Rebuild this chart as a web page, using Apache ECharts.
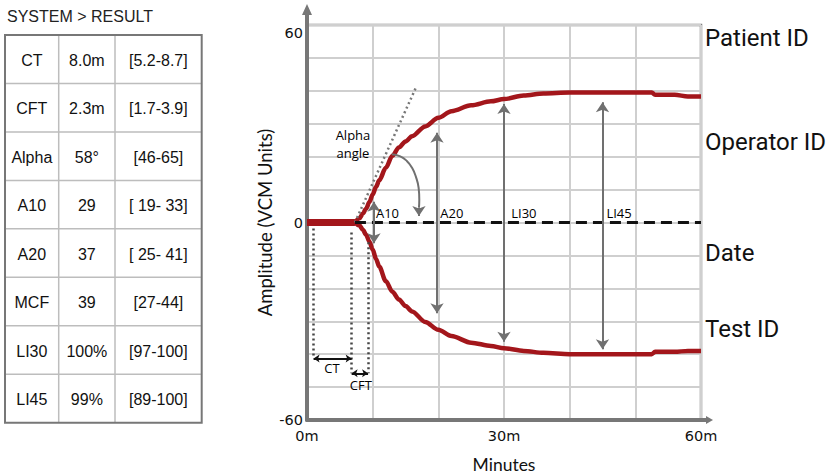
<!DOCTYPE html>
<html>
<head>
<meta charset="utf-8">
<title>SYSTEM > RESULT</title>
<script src="https://cdn.jsdelivr.net/npm/echarts@6.0.0/dist/echarts.min.js"></script>
<style>
  html, body { margin: 0; padding: 0; background: #fff; }
  #chart { width: 829px; height: 475px; }
</style>
</head>
<body>
<div id="chart"></div>
<script>
// trace (minutes, amplitude)
const timeMin = [7.3, 8, 8.5, 9, 9.5, 10, 10.5, 11, 12, 13, 14, 15, 16, 18, 20, 22, 25, 28, 30, 33, 36, 40, 45, 50, 52.5, 53, 56, 58, 60];
const upperAmp = [0, 1.3, 2.7, 4.2, 6.2, 8.5, 10.8, 12.8, 16.6, 20.3, 22.8, 24.6, 26.2, 29.2, 31.8, 33.8, 35.6, 36.8, 37.5, 38.6, 39.2, 39.5, 39.5, 39.5, 39.5, 38.8, 38.8, 38.3, 38.3];
const lowerAmp = [0, -0.9, -2.2, -3.7, -5.8, -8.2, -11, -13.4, -17.8, -21, -23.4, -25.4, -27, -30.2, -32.6, -34.5, -36.5, -37.5, -38.2, -39, -39.6, -40, -40, -40, -40, -39.3, -39.3, -39, -39];
const baseTime = [0, 7.3];

// measurement arrows
const arrowNames = ['A10', 'A20', 'LI30', 'LI45'];
const arrowTime = [10.2, 19.8, 30, 45];
const arrowTop = [6.3, 27.3, 36, 36.5];
const arrowBottom = [-6.3, -27.6, -36.2, -38.5];
const arrowLabelTime = [10.5, 20.3, 31.1, 45.6];
const arrowLabelAmp = 3;

// alpha angle: tangent and the curved arrow
const tangentFrom = [7.3, 0];
const tangentTo = [16.7, 41.5];
const alphaArcTime = [12.9, 14.2, 15.2, 16.0, 16.6, 17.0, 17.1, 17.05];
const alphaArcAmp = [20.7, 20.1, 18.7, 16.6, 13.8, 10.5, 7.0, 4.5];
const alphaArrowEnd = [17.05, 2.0];
const alphaText = ['Alpha', 'angle'];
const alphaTextPos = [[7.0, 26.7], [7.0, 21.2]];

// CT / CFT markers
const dotTime = [1, 6.8, 9.3];
const dotTop = [-1.8, -3, -6];
const dotBottom = [-41.3, -45.8, -45.8];
const bracketNames = ['CT', 'CFT'];
const bracketFrom = [1, 6.8];
const bracketTo = [6.8, 9.3];
const bracketAmp = [-41.3, -45.8];
const bracketLabelPos = [[3.8, -44.3], [8.2, -49.3]];

const zeroLineFrom = 7.3;
const xTicks = [0, 30, 60];
const yTicks = [-60, 0, 60];

// result table
const tableParams = ['CT', 'CFT', 'Alpha', 'A10', 'A20', 'MCF', 'LI30', 'LI45'];
const tableValues = ['8.0m', '2.3m', '58°', '29', '37', '39', '100%', '99%'];
const tableRanges = ['[5.2-8.7]', '[1.7-3.9]', '[46-65]', '[ 19- 33]', '[ 25- 41]', '[27-44]', '[97-100]', '[89-100]'];
const sideLabels = ['Patient ID', 'Operator ID', 'Date', 'Test ID'];

const RED = '#a3161b';
const GREY = '#707070';
const pixelFont = '"Liberation Sans", Arial, sans-serif';
const noteFont = '"Open Sans", Lato, sans-serif';
const titleFont = 'Lato, "Open Sans", sans-serif';

function lineData(xs, ys) {
    return xs.map((x, i) => [x, ys[i]]);
}

function tableGraphic() {
    const left = 5, top = 35, right = 201.7, bottom = 422.7;
    const cols = [5, 58.7, 115, 201.7];
    const rowH = (bottom - top) / tableParams.length;
    const els = [];
    els.push({ type: 'text', style: { text: 'SYSTEM > RESULT', x: 7, y: 16, fontSize: 16, fontFamily: pixelFont, fill: '#222', verticalAlign: 'middle' } });
    els.push({ type: 'rect', shape: { x: left, y: top, width: right - left, height: bottom - top }, style: { fill: '#fff', stroke: 'none' } });
    for (let i = 1; i < tableParams.length; i++) {
        const y = top + rowH * i;
        els.push({ type: 'line', shape: { x1: left, y1: y, x2: right, y2: y }, style: { stroke: '#bdbdbd', lineWidth: 1.5 } });
    }
    [cols[1], cols[2]].forEach(x => {
        els.push({ type: 'line', shape: { x1: x, y1: top, x2: x, y2: bottom }, style: { stroke: '#bdbdbd', lineWidth: 1.5 } });
    });
    els.push({ type: 'rect', shape: { x: left, y: top, width: right - left, height: bottom - top }, style: { fill: 'none', stroke: '#777', lineWidth: 2 } });
    const columns = [tableParams, tableValues, tableRanges];
    columns.forEach((col, c) => {
        const cx = (cols[c] + cols[c + 1]) / 2;
        col.forEach((t, r) => {
            els.push({
                type: 'text',
                style: {
                    text: t, x: cx, y: top + rowH * (r + 0.5) + 1,
                    fontSize: 16, fontFamily: pixelFont, fill: '#111',
                    align: 'center', verticalAlign: 'middle'
                }
            });
        });
    });
    const sideY = [37.5, 142, 253, 329];
    sideLabels.forEach((t, i) => {
        els.push({ type: 'text', style: { text: t, x: 705, y: sideY[i], fontSize: 24, fontFamily: 'Roboto, sans-serif', fill: '#111', verticalAlign: 'middle' } });
    });
    return els;
}

function initChart(domId = 'chart') {
    const chart = echarts.init(document.getElementById(domId), null, { renderer: 'svg' });

    const guide = (name, lines, lineStyle, symbol, symbolSize, z) => ({
        name: name,
        type: 'line',
        data: [],
        silent: true,
        z: z || 3,
        markLine: {
            silent: true,
            animation: false,
            symbol: symbol,
            symbolSize: symbolSize,
            label: { show: false },
            lineStyle: lineStyle,
            emphasis: { disabled: true },
            data: lines
        }
    });

    const axisFont = { fontFamily: '"DejaVu Sans", sans-serif', fontSize: 14.5, color: '#111', lineHeight: 14 };

    chart.setOption({
        animation: false,
        backgroundColor: '#fff',
        graphic: tableGraphic(),
        grid: {
            left: 307, top: 25, right: 128, bottom: 55,
            containLabel: false,
            outerBoundsMode: 'none',
            show: true, borderColor: '#808080', borderWidth: 2.5, backgroundColor: 'transparent'
        },
        xAxis: {
            type: 'value',
            min: 0, max: 60, interval: 10,
            name: 'Minutes',
            nameLocation: 'middle',
            nameGap: 35,
            nameTextStyle: { fontFamily: titleFont, fontSize: 17.5, lineHeight: 18, color: '#111' },
            axisLine: {
                onZero: false,
                symbol: ['none', 'path://M4,0 L8,7 L6,7 L6,12 L2,12 L2,7 L0,7 Z'],
                symbolSize: [8, 12],
                symbolOffset: [0, 6],
                lineStyle: { color: '#777', width: 4 }
            },
            axisTick: { show: false },
            splitLine: { lineStyle: { color: '#cfcfcf', width: 2 } },
            axisLabel: Object.assign({
                margin: 9,
                formatter: v => xTicks.includes(v) ? v + 'm' : ''
            }, axisFont)
        },
        yAxis: {
            type: 'value',
            min: -60, max: 60, interval: 10,
            name: 'Amplitude (VCM Units)',
            nameLocation: 'middle',
            nameGap: 33,
            nameTextStyle: { fontFamily: titleFont, fontSize: 18.5, color: '#111' },
            axisLine: {
                onZero: false,
                symbol: ['none', 'path://M5,0 L10,11 L7,11 L7,21 L3,21 L3,11 L0,11 Z'],
                symbolSize: [10, 21],
                symbolOffset: [0, 10.5],
                lineStyle: { color: '#777', width: 4 }
            },
            axisTick: { show: false },
            splitLine: { lineStyle: { color: '#cfcfcf', width: 2 } },
            axisLabel: Object.assign({
                margin: 4,
                formatter: v => {
                    if (!yTicks.includes(v)) return '';
                    return v === 60 ? '{top|60}' : String(v);
                },
                rich: {
                    top: Object.assign({ padding: [16, 0, 0, 0] }, axisFont)
                }
            }, axisFont)
        },
        series: [
            guide('tangent', [[{ coord: tangentFrom }, { coord: tangentTo }]],
                { type: [2, 3], width: 2.5, color: '#777' }, ['none', 'none'], 0),
            guide('ct-lines', dotTime.map((t, i) => [{ coord: [t, dotTop[i]] }, { coord: [t, dotBottom[i]] }]),
                { type: [2, 3], width: 2.5, color: '#444' }, ['none', 'none'], 0),
            guide('zero', [[{ coord: [zeroLineFrom, 0] }, { coord: [60, 0] }]],
                { type: [11, 6], width: 3, color: '#111' }, ['none', 'none'], 0),
            {
                name: 'baseline', type: 'line', z: 4,
                data: lineData(baseTime, [0, 0]),
                showSymbol: false, silent: true,
                lineStyle: { color: RED, width: 7 }
            },
            {
                name: 'upper', type: 'line', z: 4,
                data: lineData(timeMin, upperAmp),
                smooth: 0.3, smoothMonotone: 'x', showSymbol: false, silent: true,
                lineStyle: { color: RED, width: 4.5 }
            },
            {
                name: 'lower', type: 'line', z: 4,
                data: lineData(timeMin, lowerAmp),
                smooth: 0.3, smoothMonotone: 'x', showSymbol: false, silent: true,
                lineStyle: { color: RED, width: 4.5 }
            },
            guide('arrows', arrowTime.map((t, i) => [{ coord: [t, arrowTop[i]] }, { coord: [t, arrowBottom[i]] }]),
                { type: 'solid', width: 2, color: GREY }, ['arrow', 'arrow'], 10, 5),
            {
                name: 'alpha-arc', type: 'line', z: 5,
                data: lineData(alphaArcTime, alphaArcAmp),
                smooth: 0.5, showSymbol: false, silent: true,
                lineStyle: { color: GREY, width: 2 },
                markLine: {
                    silent: true, animation: false,
                    symbol: ['none', 'arrow'], symbolSize: 10,
                    label: { show: false },
                    lineStyle: { type: 'solid', width: 2, color: GREY },
                    emphasis: { disabled: true },
                    data: [[
                        { coord: [alphaArcTime[alphaArcTime.length - 1], alphaArcAmp[alphaArcAmp.length - 1]] },
                        { coord: alphaArrowEnd }
                    ]]
                }
            },
            guide('brackets', bracketFrom.map((x, i) => [{ coord: [x, bracketAmp[i]] }, { coord: [bracketTo[i], bracketAmp[i]] }]),
                { type: 'solid', width: 2, color: '#111' }, ['arrow', 'arrow'], 6, 5),
            {
                name: 'notes', type: 'scatter', z: 6, silent: true,
                symbolSize: 0,
                itemStyle: { opacity: 1 },
                label: {
                    show: true, position: 'right', distance: 0,
                    formatter: '{b}', fontFamily: noteFont, fontSize: 13, color: '#000'
                },
                data: arrowNames.map((n, i) => ({ name: n, value: [arrowLabelTime[i], arrowLabelAmp] }))
                    .concat(alphaText.map((n, i) => ({ name: n, value: alphaTextPos[i], label: { position: 'inside', color: '#000' } })))
                    .concat(bracketNames.map((n, i) => ({ name: n, value: bracketLabelPos[i], label: { position: 'inside', color: '#000' } })))
            }
        ]
    });

    return chart;
}

initChart();
</script>
</body>
</html>
